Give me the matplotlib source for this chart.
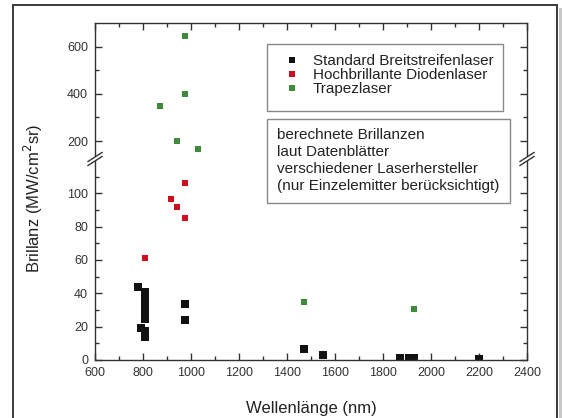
import numpy as np
import matplotlib
matplotlib.use("Agg")
import matplotlib.pyplot as plt
from matplotlib.patches import Rectangle, Polygon
from matplotlib.lines import Line2D

plt.rcParams["font.family"] = ["Liberation Sans", "DejaVu Sans"]

# Standard Breitstreifenlaser
std_nm = [780, 808, 808, 808, 808, 808, 790, 808, 808, 975, 975, 1470, 1550, 1870, 1910, 1930, 2200]
std_b = [44, 41, 36, 31.6, 27.5, 24.5, 19.4, 17.4, 14, 33.5, 24, 6.6, 3, 1.2, 1.2, 1.2, 0.8]
# Hochbrillante Diodenlaser
hb_nm = [808, 915, 940, 975, 975]
hb_b = [61.5, 96.4, 91.6, 106, 85]
# Trapezlaser
tz_nm = [975, 975, 870, 940, 1030, 1470, 1930]
tz_b = [645, 400, 350, 200, 166, 35, 30.7]

series = [
    ("Standard Breitstreifenlaser", std_nm, std_b, "#111111", 5.5),
    ("Hochbrillante Diodenlaser", hb_nm, hb_b, "#cc1020", 5.0),
    ("Trapezlaser", tz_nm, tz_b, "#3f8a3c", 4.7),
]
y_break = 120

W, H = 562, 418
fig = plt.figure(figsize=(W / 100, H / 100), dpi=100)
fig.patch.set_facecolor("white")

def fx(px):
    return px / W

def fy(py):
    return 1 - py / H

# outer frame with shadow
fig.patches.append(Rectangle((fx(559), fy(430)), fx(4), fy(8) - fy(430), transform=fig.transFigure,
                             facecolor="#c8c8c8", edgecolor="none", zorder=-2))
fig.patches.append(Rectangle((fx(13), fy(430)), fx(557) - fx(13), fy(5) - fy(430), transform=fig.transFigure,
                             facecolor="white", edgecolor="#3a3a3a", linewidth=1.4, zorder=-1))

left, right = fx(95), fx(527)
y0, ybrk, ytop = fy(360), fy(160), fy(23)
ax_lo = fig.add_axes([left, y0, right - left, ybrk - y0])
ax_hi = fig.add_axes([left, ybrk, right - left, ytop - ybrk])

spine_c = "#333333"
for ax, upper in ((ax_lo, False), (ax_hi, True)):
    for label, nm, b, c, ms in series:
        nm = np.array(nm)
        b = np.array(b)
        keep = b >= y_break if upper else b < y_break
        ax.plot(nm[keep], b[keep], linestyle="none", marker="s", markersize=ms, color=c,
                markeredgewidth=0)
    ax.set_xlim(600, 2400)
    ax.set_xticks(np.arange(600, 2401, 200))
    ax.set_xticks(np.arange(700, 2400, 200), minor=True)
    for sp in ax.spines.values():
        sp.set_color(spine_c)
        sp.set_linewidth(1.0)
    ax.tick_params(which="both", direction="in", colors=spine_c, labelcolor="#333333",
                   labelsize=9, width=1.0, left=True, right=True, pad=5)
    ax.tick_params(which="major", length=5)
    ax.tick_params(which="minor", length=3)
    ax.set_facecolor("none")

ax_lo.set_ylim(0, y_break)
ax_lo.set_yticks([0, 20, 40, 60, 80, 100])
ax_lo.set_yticks([10, 30, 50, 70, 90, 110], minor=True)
ax_lo.spines["top"].set_visible(False)
ax_lo.tick_params(which="both", top=False, bottom=True)
ax_lo.set_xlabel("Wellenlänge (nm)", fontsize=12, color="#222222", labelpad=16)

ax_hi.set_ylim(y_break, 700)
ax_hi.set_yticks([200, 400, 600])
ax_hi.set_yticks([300, 500], minor=True)
ax_hi.spines["bottom"].set_visible(False)
ax_hi.tick_params(which="both", top=True, bottom=False, labelbottom=False)

fig.text(fx(33), fy(198), "Brillanz (MW/cm$^2$sr)", rotation=90, fontsize=12,
         color="#222222", ha="center", va="center")

# axis break marks
for xb in (95, 527):
    gap = Polygon([[fx(xb - 6), fy(165)], [fx(xb + 6), fy(157)], [fx(xb + 6), fy(153)], [fx(xb - 6), fy(161)]],
                  closed=True, transform=fig.transFigure, facecolor="white", edgecolor="none", zorder=5)
    fig.patches.append(gap)
    for d in (0, 4):
        fig.lines.append(Line2D([fx(xb - 7), fx(xb + 7)], [fy(165.5 - d), fy(156.5 - d)],
                                transform=fig.transFigure, color=spine_c, linewidth=1.0, zorder=6))

# legend
fig.patches.append(Rectangle((fx(267), fy(111)), fx(503) - fx(267), fy(44) - fy(111),
                             transform=fig.transFigure, facecolor="white", edgecolor="#888888",
                             linewidth=1.0, zorder=3))
handles = [Line2D([], [], linestyle="none", marker="s", markersize=5, color=c, markeredgewidth=0)
           for _, _, _, c, _ in series]
labels = [s[0] for s in series]
leg = fig.legend(handles, labels, loc="upper left", bbox_to_anchor=(fx(267), fy(46)), frameon=False,
                 fontsize=11, handlelength=2.2, handletextpad=0.25,
                 labelspacing=0.0, borderpad=0.55, borderaxespad=0)
leg.set_zorder(4)
for t in leg.get_texts():
    t.set_color("#222222")

# annotation box
fig.patches.append(Rectangle((fx(267), fy(203)), fx(510) - fx(267), fy(119) - fy(203),
                             transform=fig.transFigure, facecolor="white", edgecolor="#888888",
                             linewidth=1.0, zorder=3))
fig.text(fx(277), fy(128), "berechnete Brillanzen\nlaut Datenblätter\nverschiedener Laserhersteller\n"
         "(nur Einzelemitter berücksichtigt)", fontsize=11, color="#222222", va="top", ha="left",
         linespacing=1.28, zorder=4)

fig.savefig("out.png", dpi=100)
